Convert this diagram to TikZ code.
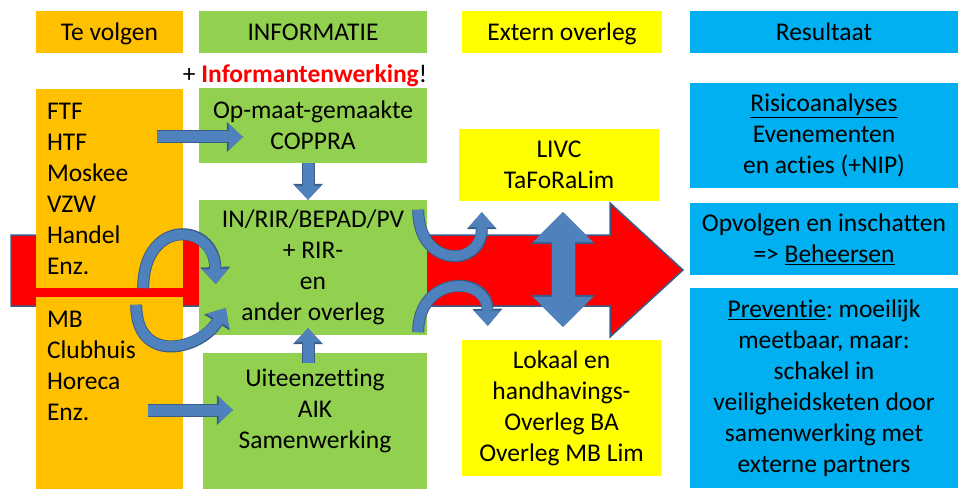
\documentclass[tikz,border=0pt]{standalone}
\usepackage{fontspec}
\setmainfont{Carlito}[Ligatures=NoCommon]
\usepackage{tikz}
\usetikzlibrary{arrows.meta}
\frenchspacing

\definecolor{oranje}{HTML}{FFC000}
\definecolor{groen}{HTML}{92D050}
\definecolor{geel}{HTML}{FFFF00}
\definecolor{blauw}{HTML}{00B0F0}
\definecolor{pijlblauw}{HTML}{4F81BD}
\definecolor{pijlrand}{HTML}{385D8A}
\newcommand{\tekst}{\fontsize{25.5}{31}\selectfont}

\begin{document}
\begin{tikzpicture}[
    x=1pt,y=-1pt,
    vak/.style={inner sep=0pt,align=center,font=\tekst},
    kop/.style={vak,minimum height=42pt,text height=17pt,text depth=-1pt},
    blok/.style={draw=pijlblauw,line width=11pt,-{Triangle[length=14pt,width=26pt,line width=0pt]},
      preaction={draw=pijlrand,line width=13pt,-{Triangle[length=16pt,width=30pt,line width=0pt]}}},
    bocht/.style={draw=pijlblauw,line width=10pt,-{Triangle[length=15pt,width=26pt,line width=0pt]},
      preaction={draw=pijlrand,line width=12pt,-{Triangle[length=17pt,width=30pt,line width=0pt]}}},
    dubbel/.style={draw=pijlblauw,line width=23pt,
      {Triangle[length=30pt,width=60pt,line width=0pt]}-{Triangle[length=30pt,width=60pt,line width=0pt]},
      preaction={draw=pijlrand,line width=25pt,
      {Triangle[length=32pt,width=64pt,line width=0pt]}-{Triangle[length=32pt,width=64pt,line width=0pt]}}}
    ]
  \useasboundingbox (0,0) rectangle (958,489);

  % grote rode pijl
  \filldraw[fill=red,draw=pijlrand,line width=1.5pt]
    (11,235) -- (610,235) -- (610,203) -- (683,270) -- (610,337) -- (610,306) -- (11,306) -- cycle;

  % kolomkoppen
  \node[kop,fill=oranje,minimum width=147pt](volgen) at (109.5,32){Te volgen};
  \node[kop,fill=groen,minimum width=228pt](info) at (313,32){INFORMATIE};
  \node[kop,fill=geel,minimum width=200pt](extern) at (562,32){Extern overleg};
  \node[kop,fill=blauw,minimum width=268pt](result) at (824,32){Resultaat};
  \node[vak](informant) at (305,76){+ \textcolor{red}{\bfseries Informantenwerking}!};

  % te volgen
  \node[vak,fill=oranje,align=left,text width=125pt,inner xsep=11pt,minimum height=199pt](boven) at (109.5,188.5)
    {FTF\\HTF\\Moskee\\VZW\\Handel\\Enz.};
  \node[vak,fill=oranje,minimum width=147pt,minimum height=192pt](onder) at (109.5,393){};
  \node[vak,align=left,anchor=north west](onderlijst) at ([xshift=11pt,yshift=-14.5pt]onder.north west)
    {MB\\Clubhuis\\Horeca\\Enz.};

  % informatie
  \node[vak,fill=groen,minimum width=228pt,minimum height=75pt](coppra) at (313,125.5){Op-maat-gemaakte\\COPPRA};
  \node[vak,fill=groen,minimum width=228pt,minimum height=135pt](overleg) at (313,267.5)
    {IN/RIR/BEPAD/PV\\+ RIR-\\en\\ander overleg};
  \node[vak,fill=groen,minimum width=224pt,minimum height=136pt](uiteen) at (315,421){};
  \node[vak,anchor=north](uiteentekst) at ([yshift=-15.5pt]uiteen.north){Uiteenzetting\\AIK\\Samenwerking};

  % extern overleg
  \node[vak,fill=geel,minimum width=200pt,minimum height=72pt](livc) at (559,165){LIVC\\TaFoRaLim};
  \node[vak,fill=geel,minimum width=199pt,minimum height=136pt](lokaal) at (561.5,408)
    {Lokaal en\\handhavings-\\Overleg BA\\Overleg MB Lim};

  % resultaat
  \node[vak,fill=blauw,minimum width=268pt,minimum height=105pt](risico) at (824,135.5)
    {\underline{Risicoanalyses}\\Evenementen\\en acties (+NIP)};
  \node[vak,fill=blauw,minimum width=268pt,minimum height=72pt](opvolgen) at (824,239)
    {Opvolgen en inschatten\\=> \underline{Beheersen}};
  \node[vak,fill=blauw,minimum width=268pt,minimum height=200pt](preventie) at (824,388)
    {\underline{Preventie}: moeilijk\\meetbaar, maar:\\schakel in\\veiligheidsketen door\\samenwerking met\\externe partners};

  % blauwe pijlen
  \draw[blok] ([xshift=-42pt,yshift=-11.5pt]coppra.west) -- ([xshift=44pt,yshift=-11.5pt]coppra.west);
  \draw[blok] ([xshift=-5pt]coppra.south) -- ([xshift=-5pt]overleg.north);
  \draw[blok] ([xshift=-7pt,yshift=-10pt]uiteen.north) -- ([xshift=-5pt,yshift=7pt]overleg.south);
  \draw[blok] ([xshift=-55pt,yshift=11pt]uiteen.west) -- ([xshift=30pt,yshift=11pt]uiteen.west);
  \draw[bocht] ([xshift=-40pt]boven.south east) .. controls +(0,-70) and +(-2,-62) .. ([xshift=17pt,yshift=-16.5pt]overleg.west);
  \draw[bocht] ([xshift=-47pt,yshift=-8pt]onder.north east) .. controls +(0,60) and +(-26,42) .. ([xshift=27pt,yshift=-40.5pt]overleg.west);
  \draw[bocht] ([xshift=-9pt,yshift=-10pt]overleg.north east) .. controls +(0,58) and +(0,56) .. ([xshift=23pt,yshift=-11pt]livc.south west);
  \draw[bocht] ([xshift=-9pt,yshift=3pt]overleg.south east) .. controls +(0,-57) and +(-1,-51) .. ([xshift=26pt,yshift=14pt]lokaal.north west);
  \draw[dubbel] ([xshift=4pt,yshift=-11pt]livc.south) -- ([xshift=1.5pt,yshift=13pt]lokaal.north);
\end{tikzpicture}
\end{document}
